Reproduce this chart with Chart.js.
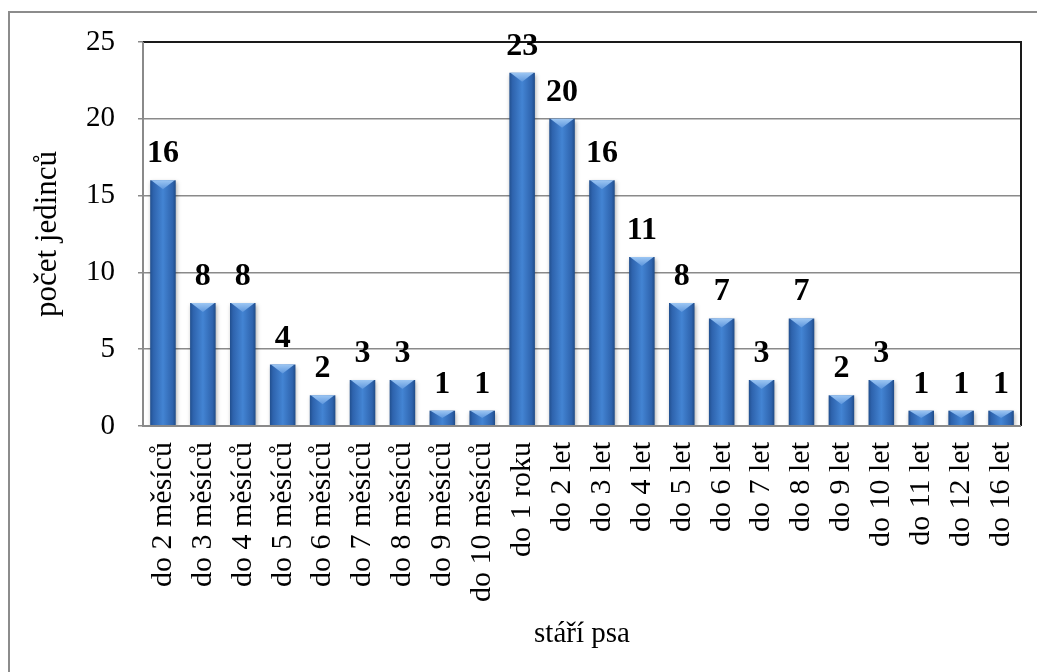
<!DOCTYPE html>
<html>
<head>
<meta charset="utf-8">
<script src="https://cdn.jsdelivr.net/npm/chart.js@4/dist/chart.umd.min.js"></script>
<style>
  html, body { margin: 0; padding: 0; background: #fff; overflow: hidden; }
  #frame { position: absolute; left: 8px; top: 11px; width: 1100px; height: 800px; border: 2px solid #8c8c8c; box-sizing: border-box; }
  #wrap { position: absolute; left: 0; top: 0; width: 1037px; height: 672px; }
</style>
</head>
<body>
<div id="frame"></div>
<div id="wrap"><canvas id="c" width="1037" height="672"></canvas></div>
<script>
const categories = ["do 2 měsíců","do 3 měsíců","do 4 měsíců","do 5 měsíců","do 6 měsíců","do 7 měsíců","do 8 měsíců","do 9 měsíců","do 10 měsíců","do 1 roku","do 2 let","do 3 let","do 4 let","do 5 let","do 6 let","do 7 let","do 8 let","do 9 let","do 10 let","do 11 let","do 12 let","do 16 let"];
const counts = [16, 8, 8, 4, 2, 3, 3, 1, 1, 23, 20, 16, 11, 8, 7, 3, 7, 2, 3, 1, 1, 1];
const yTicks = [0, 5, 10, 15, 20, 25];
const xTitle = "stáří psa";
const yTitle = "počet jedinců";

const BAR_PCT = 0.64;
const SERIF = "'Liberation Serif', 'Times New Roman', serif";

function barFill(ctx) {
  const chart = ctx.chart;
  if (!chart.chartArea) return '#3a74c4';
  const xs = chart.scales.x;
  const cx = xs.getPixelForValue(ctx.dataIndex);
  const w = (xs.width / categories.length) * BAR_PCT;
  const g = chart.ctx.createLinearGradient(cx - w / 2, 0, cx + w / 2, 0);
  g.addColorStop(0, '#214f8e');
  g.addColorStop(0.12, '#2e63ad');
  g.addColorStop(0.5, '#4384d3');
  g.addColorStop(0.88, '#2e63ad');
  g.addColorStop(1, '#1f4b87');
  return g;
}

const decor = {
  id: 'decor',
  beforeDatasetsDraw(chart) {
    const c = chart.ctx;
    c.save();
    c.shadowColor = 'rgba(0,0,0,0.3)';
    c.shadowBlur = 4;
    c.shadowOffsetX = 1;
    c.shadowOffsetY = 2;
  },
  afterDatasetsDraw(chart) {
    const c = chart.ctx;
    c.restore();
    const meta = chart.getDatasetMeta(0);
    const area = chart.chartArea;
    meta.data.forEach((bar) => {
      const p = bar.getProps(['x', 'y', 'width', 'base'], true);
      const l = p.x - p.width / 2, r = p.x + p.width / 2;
      const h = Math.min(9, (p.base - p.y) / 2);
      const g = c.createLinearGradient(0, p.y, 0, p.y + h);
      g.addColorStop(0, '#9cc6f3');
      g.addColorStop(1, '#5d96dd');
      c.beginPath();
      c.moveTo(l + 1, p.y);
      c.lineTo(r - 1, p.y);
      c.lineTo(p.x, p.y + h);
      c.closePath();
      c.fillStyle = g;
      c.fill();
    });
    c.save();
    c.lineWidth = 2;
    c.strokeStyle = '#1a1a1a';
    c.beginPath();
    c.moveTo(area.left, area.top);
    c.lineTo(area.right, area.top);
    c.lineTo(area.right, area.bottom);
    c.stroke();
    c.strokeStyle = '#8a8a8a';
    c.beginPath();
    c.moveTo(area.left, area.top);
    c.lineTo(area.left, area.bottom);
    c.lineTo(area.right, area.bottom);
    c.stroke();
    c.restore();
    c.save();
    c.font = "bold 32px " + SERIF;
    c.fillStyle = '#000';
    c.textAlign = 'center';
    c.textBaseline = 'alphabetic';
    meta.data.forEach((bar, i) => {
      c.fillText(String(counts[i]), bar.x, bar.y - 18);
    });
    c.restore();
  }
};

new Chart(document.getElementById('c'), {
  type: 'bar',
  data: {
    labels: categories,
    datasets: [{
      data: counts,
      backgroundColor: barFill,
      borderWidth: 0,
      barPercentage: BAR_PCT,
      categoryPercentage: 1.0
    }]
  },
  options: {
    responsive: false,
    animation: false,
    devicePixelRatio: 1,
    layout: { padding: { top: 42, right: 16, left: 0, bottom: 0 } },
    plugins: { legend: { display: false }, tooltip: { enabled: false } },
    scales: {
      x: {
        grid: { display: false, drawTicks: false },
        border: { display: false },
        ticks: {
          maxRotation: 90, minRotation: 90, autoSkip: false,
          padding: 16, color: '#000',
          font: { family: SERIF, size: 30 }
        },
        title: {
          display: true, text: xTitle, color: '#000',
          font: { family: SERIF, size: 29 },
          padding: { top: 0, bottom: 20 }
        },
        afterFit(scale) { scale.height = 672 - 426; scale.paddingLeft = 0; scale.paddingRight = 0; }
      },
      y: {
        min: 0, max: 25,
        afterBuildTicks(scale) { scale.ticks = yTicks.map(v => ({ value: v })); },
        grid: { color: '#8a8a8a', lineWidth: 1.5, drawTicks: true, tickLength: 5 },
        border: { display: false },
        ticks: {
          padding: 23, color: '#000',
          font: { family: SERIF, size: 29 }
        },
        title: {
          display: true, text: yTitle, color: '#000',
          font: { family: SERIF, size: 31 },
          padding: { top: 29, bottom: 0 }
        },
        afterFit(scale) { scale.width = 143; scale.paddingTop = 0; scale.paddingBottom = 0; }
      }
    }
  },
  plugins: [decor]
});
</script>
</body>
</html>
